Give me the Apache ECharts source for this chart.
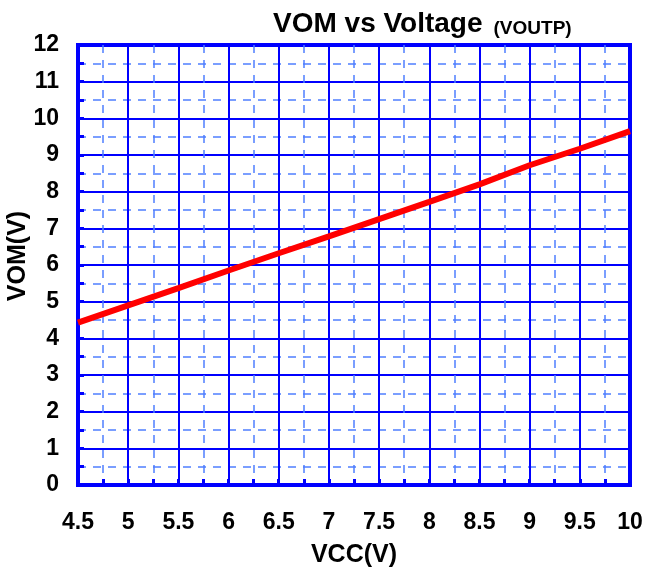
<!DOCTYPE html>
<html>
<head>
<meta charset="utf-8">
<script src="https://cdn.jsdelivr.net/npm/echarts@6/dist/echarts.min.js"></script>
<style>
  html, body { margin: 0; padding: 0; background: #fff; }
  #chart { width: 646px; height: 570px; }
</style>
</head>
<body>
<div id="chart"></div>
<script>
  // VCC (V) sample points and measured VOM (V)
  const vcc = [4.5, 5, 5.5, 6, 6.5, 7, 7.5, 8, 8.5, 9, 9.5, 10];
  const vom = [4.43, 4.9, 5.37, 5.85, 6.32, 6.78, 7.25, 7.72, 8.2, 8.72, 9.17, 9.65];

  const blue = '#0000ff';
  const font = 'Liberation Sans, Arial, sans-serif';

  const chart = echarts.init(document.getElementById('chart'));
  chart.setOption({
    animation: false,
    title: {
      text: '{a|VOM vs Voltage}{b|(VOUTP)}',
      left: 268,
      top: 3,
      textStyle: {
        rich: {
          a: { fontFamily: font, fontWeight: 'bold', fontSize: 28, color: '#000', lineHeight: 30, verticalAlign: 'bottom' },
          b: { fontFamily: font, fontWeight: 'bold', fontSize: 19, color: '#000', lineHeight: 30, verticalAlign: 'bottom', padding: [0, 0, 0, 11] }
        }
      }
    },
    grid: {
      left: 78, right: 16, top: 45, bottom: 85,
      containLabel: false,
      outerBoundsMode: 'none',
      show: true,
      borderColor: blue,
      borderWidth: 4
    },
    xAxis: {
      type: 'value',
      min: 4.5,
      max: 10,
      interval: 0.5,
      name: 'VCC(V)',
      nameLocation: 'middle',
      nameGap: 58,
      nameMoveOverlap: false,
      nameTextStyle: { fontFamily: font, fontWeight: 'bold', fontSize: 25, color: '#000' },
      axisLine: { lineStyle: { color: blue, width: 4 } },
      axisTick: { inside: true, length: 6, lineStyle: { color: blue, width: 3 } },
      minorTick: { show: true, splitNumber: 2, length: 6, lineStyle: { color: blue, width: 3 } },
      axisLabel: { margin: 26, fontFamily: font, fontWeight: 'bold', fontSize: 23, color: '#000' },
      splitLine: { show: true, lineStyle: { color: blue, width: 2 } },
      minorSplitLine: { show: true, lineStyle: { color: '#4f7fff', width: 1.5, type: [8, 7] } }
    },
    yAxis: {
      type: 'value',
      min: 0,
      max: 12,
      interval: 1,
      name: 'VOM(V)',
      nameLocation: 'middle',
      nameGap: 47,
      nameMoveOverlap: false,
      nameTextStyle: { fontFamily: font, fontWeight: 'bold', fontSize: 25, color: '#000', padding: [0, 0, 0, 18] },
      axisLine: { show: true, lineStyle: { color: blue, width: 4 } },
      axisTick: { show: true, inside: true, length: 6, lineStyle: { color: blue, width: 3 } },
      minorTick: { show: true, splitNumber: 2, length: 6, lineStyle: { color: blue, width: 3 } },
      axisLabel: { margin: 19, fontFamily: font, fontWeight: 'bold', fontSize: 23, color: '#000' },
      splitLine: { show: true, lineStyle: { color: blue, width: 2 } },
      minorSplitLine: { show: true, lineStyle: { color: '#4f7fff', width: 1.5, type: [8, 7] } }
    },
    series: [{
      type: 'line',
      data: vcc.map((v, i) => [v, vom[i]]),
      showSymbol: false,
      lineStyle: { color: '#ff0000', width: 6 },
      clip: true
    }]
  });
</script>
</body>
</html>
